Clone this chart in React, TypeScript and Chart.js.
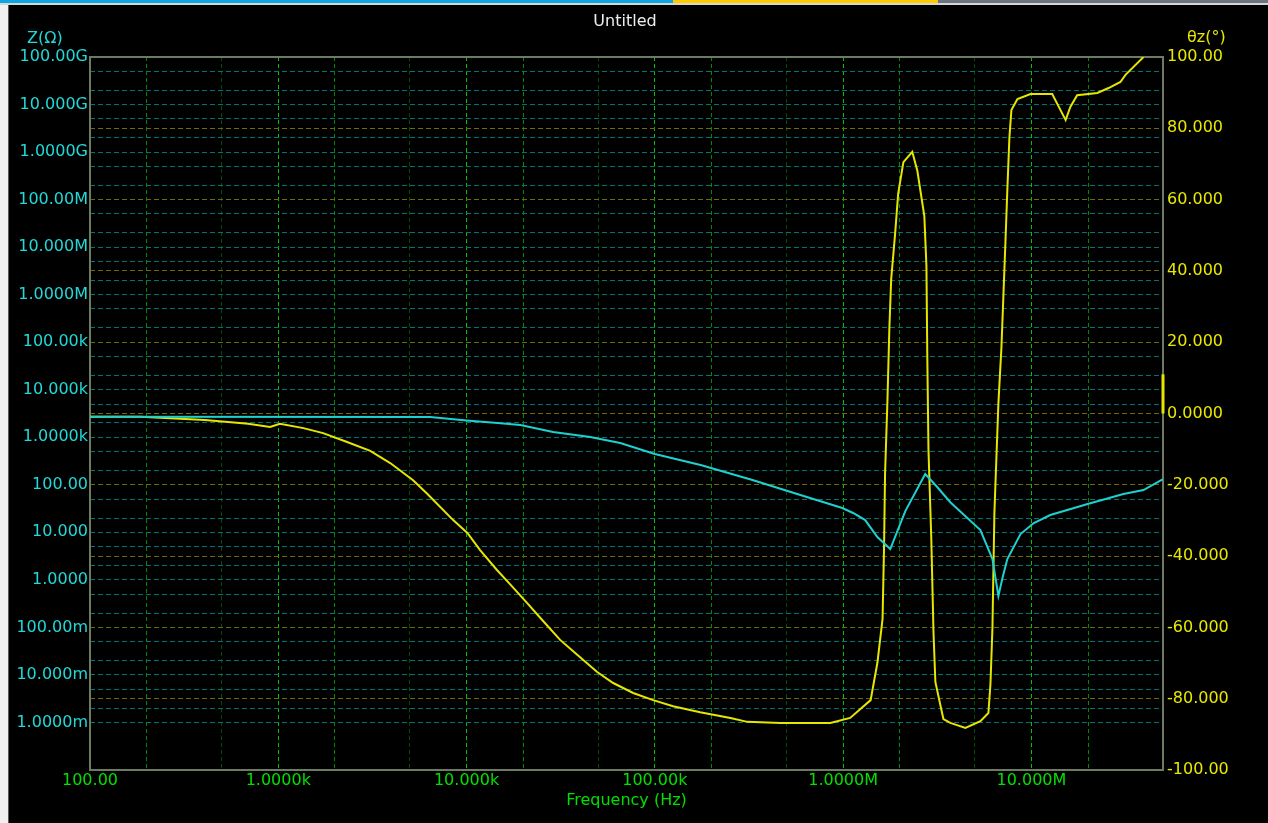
import React, { useEffect, useRef } from 'react';
import { Chart, registerables } from 'chart.js';

Chart.register(...registerables);

// ---------- data ----------
// Impedance magnitude |Z| (ohm) vs frequency (Hz)
const zFreq = [100, 6.4e3, 1e4, 1.46e4, 1.93e4, 2.88e4, 4.54e4, 6.55e4, 1e5, 1.75e5, 3.3e5, 5.93e5, 9.9e5, 1.13e6, 1.31e6, 1.52e6, 1.78e6, 2.14e6, 2.73e6, 3.16e6, 3.71e6, 5.36e6, 6.21e6, 6.68e6, 7.02e6, 7.45e6, 8.75e6, 1.03e7, 1.26e7, 1.99e7, 3.08e7, 3.94e7, 5e7];
const zOhm = [2700, 2680, 2250, 2000, 1810, 1290, 1010, 757, 444, 261, 126, 61, 32.5, 25.5, 18.1, 7.96, 4.45, 28, 169, 90, 43, 11.2, 2.74, 0.457, 1.09, 2.74, 9.2, 15.7, 23.1, 39.4, 64, 77.6, 132];

// Impedance phase θz (deg) vs frequency (Hz)
const phFreq = [100, 185, 408, 692, 904, 1.02e3, 1.36e3, 1.73e3, 2.32e3, 3.08e3, 3.93e3, 5.2e3, 6.18e3, 8.49e3, 1.01e4, 1.18e4, 1.45e4, 1.71e4, 2.1e4, 2.55e4, 3.14e4, 3.87e4, 4.94e4, 6.01e4, 7.67e4, 9.8e4, 1.25e5, 1.74e5, 2.52e5, 3.1e5, 4.64e5, 8.55e5, 1.09e6, 1.4e6, 1.52e6, 1.62e6, 1.65e6, 1.67e6, 1.72e6, 1.76e6, 1.8e6, 1.89e6, 1.96e6, 2.09e6, 2.33e6, 2.48e6, 2.7e6, 2.77e6, 2.8e6, 2.84e6, 2.94e6, 3.02e6, 3.09e6, 3.29e6, 3.41e6, 3.71e6, 4.46e6, 5.36e6, 5.91e6, 6.06e6, 6.21e6, 6.36e6, 6.52e6, 6.68e6, 6.93e6, 7.1e6, 7.28e6, 7.45e6, 7.64e6, 7.83e6, 8.43e6, 9.89e6, 1.29e7, 1.52e7, 1.61e7, 1.75e7, 2.24e7, 2.57e7, 2.97e7, 3.16e7, 3.94e7];
const phDeg = [-0.9, -0.9, -1.8, -2.9, -3.8, -2.9, -4.1, -5.5, -8.0, -10.5, -13.9, -18.7, -22.5, -29.9, -33.5, -38.3, -43.9, -48.0, -53.2, -58.2, -63.5, -67.7, -72.5, -75.6, -78.4, -80.4, -82.1, -83.8, -85.4, -86.5, -86.8, -86.8, -85.4, -80.4, -70.0, -57.6, -37.2, -17.0, 3.8, 23.7, 37.7, 50.6, 61.6, 70.5, 73.4, 68.0, 55.4, 41.4, 15.8, -10.2, -35.2, -61.3, -75.3, -82.0, -85.7, -86.8, -88.2, -86.3, -84.0, -75.9, -60.2, -27.9, -12.2, 2.9, 18.4, 33.0, 48.1, 62.7, 77.3, 85.1, 88.2, 89.6, 89.6, 82.3, 86.0, 89.3, 89.9, 91.3, 93.0, 95.0, 100];

// small phase marker at the right edge
const markerFreq = [5e7, 5e7];
const markerDeg = [0, 11];

// axis ticks / grid values
const freqTicks = [100, 200, 500, 1e3, 2e3, 5e3, 1e4, 2e4, 5e4, 1e5, 2e5, 5e5, 1e6, 2e6, 5e6, 1e7, 2e7];
const zTicks = [1e-3, 2e-3, 5e-3, 1e-2, 2e-2, 5e-2, 0.1, 0.2, 0.5, 1, 2, 5, 10, 20, 50, 100, 200, 500, 1e3, 2e3, 5e3, 1e4, 2e4, 5e4, 1e5, 2e5, 5e5, 1e6, 2e6, 5e6, 1e7, 2e7, 5e7, 1e8, 2e8, 5e8, 1e9, 2e9, 5e9, 1e10, 2e10, 5e10, 1e11];
const phaseTicks = [-100, -80, -60, -40, -20, 0, 20, 40, 60, 80, 100];

const FREQ_MIN = 100;
const FREQ_MAX = 5e7;
const Z_MIN = 1e-4;
const Z_MAX = 1e11;
const PH_MIN = -100;
const PH_MAX = 100;

// ---------- style ----------
const FONT = "'DejaVu Sans', sans-serif";
const CYAN = '#1fd0d0';
const YELLOW = '#e6e600';
const GREEN_TXT = '#00e000';
const CYAN_TXT = '#22d8d8';
const YELLOW_TXT = '#e8e800';
const FRAME = '#6c7b62';

function mantissa(v: number) {
  const e = Math.floor(Math.log10(v) + 1e-9);
  return Math.round(v / Math.pow(10, e));
}

function fmt5(m: number) {
  const a = Math.abs(m);
  if (a >= 99.9995) return m.toFixed(2);
  if (a >= 9.99995) return m.toFixed(3);
  return m.toFixed(4);
}

function fmtSI(v: number) {
  const pre: [number, string][] = [[1e9, 'G'], [1e6, 'M'], [1e3, 'k'], [1, ''], [1e-3, 'm'], [1e-6, 'µ']];
  for (const [p, s] of pre) {
    if (v >= p * 0.99999) return fmt5(v / p) + s;
  }
  return fmt5(v);
}

const framePlugin = {
  id: 'framePlugin',
  beforeDatasetsDraw(chart: any) {
    const { ctx, chartArea } = chart;
    const { left, top, right, bottom } = chartArea;
    ctx.save();
    ctx.strokeStyle = FRAME;
    ctx.lineWidth = 2;
    ctx.strokeRect(left, top, right - left, bottom - top);
    ctx.restore();
  },
  afterDraw(chart: any) {
    const { ctx, chartArea } = chart;
    ctx.save();
    ctx.font = `16px ${FONT}`;
    ctx.textBaseline = 'middle';
    ctx.fillStyle = '#eeeeee';
    ctx.textAlign = 'center';
    ctx.fillText('Untitled', 625, 22);
    ctx.fillStyle = CYAN_TXT;
    ctx.textAlign = 'left';
    ctx.fillText('Z(Ω)', 27, 39);
    ctx.fillStyle = YELLOW_TXT;
    ctx.fillText('θz(°)', 1187, 38);
    ctx.fillStyle = GREEN_TXT;
    ctx.textAlign = 'center';
    ctx.fillText('Frequency (Hz)', (chartArea.left + chartArea.right) / 2, 801);
    ctx.restore();
  },
};

export default function App() {
  const canvasRef = useRef<HTMLCanvasElement | null>(null);

  useEffect(() => {
    const canvas = canvasRef.current;
    if (!canvas) return;
    const chart = new Chart(canvas, {
      type: 'line',
      data: {
        datasets: [
          {
            label: 'Z',
            data: zFreq.map((f, i) => ({ x: f, y: zOhm[i] })),
            yAxisID: 'yZ',
            borderColor: CYAN,
            borderWidth: 2,
            pointRadius: 0,
            tension: 0,
          },
          {
            label: 'θz',
            data: phFreq.map((f, i) => ({ x: f, y: phDeg[i] })),
            yAxisID: 'yP',
            borderColor: YELLOW,
            borderWidth: 2,
            pointRadius: 0,
            tension: 0,
          },
          {
            label: 'marker',
            data: markerFreq.map((f, i) => ({ x: f, y: markerDeg[i] })),
            yAxisID: 'yP',
            borderColor: YELLOW,
            borderWidth: 3,
            pointRadius: 0,
            clip: false,
          } as any,
        ],
      },
      options: {
        responsive: false,
        animation: false,
        events: [],
        layout: { padding: { top: 57, left: 0, right: 0, bottom: 0 } },
        plugins: {
          legend: { display: false },
          tooltip: { enabled: false },
          title: { display: false },
        },
        scales: {
          x: {
            type: 'logarithmic',
            position: 'bottom',
            min: FREQ_MIN,
            max: FREQ_MAX,
            afterBuildTicks: (s: any) => {
              s.ticks = freqTicks.map((v) => ({ value: v }));
            },
            afterFit: (s: any) => {
              s.height = 53;
            },
            grid: {
              drawTicks: false,
              lineWidth: 1,
              color: (ctx: any) => {
                const v = ctx.tick ? ctx.tick.value : 1;
                const m = mantissa(v);
                if (m === 1) return '#00c400';
                if (m === 2) return '#008a00';
                return '#004c00';
              },
            },
            border: { display: false, dash: [4, 3] },
            ticks: {
              autoSkip: false,
              maxRotation: 0,
              padding: 1,
              color: GREEN_TXT,
              font: { family: FONT, size: 16 },
              callback: (v: any) => (mantissa(Number(v)) === 1 ? fmtSI(Number(v)) : ''),
            },
          },
          yZ: {
            type: 'logarithmic',
            position: 'left',
            min: Z_MIN,
            max: Z_MAX,
            afterBuildTicks: (s: any) => {
              s.ticks = zTicks.map((v) => ({ value: v }));
            },
            afterFit: (s: any) => {
              s.width = 90;
            },
            grid: { drawTicks: false, lineWidth: 1, color: '#007676' },
            border: { display: false, dash: [5, 3] },
            ticks: {
              autoSkip: false,
              padding: 2,
              color: CYAN_TXT,
              font: { family: FONT, size: 16 },
              callback: (v: any) => (mantissa(Number(v)) === 1 ? fmtSI(Number(v)) : ''),
            },
          },
          yP: {
            type: 'linear',
            position: 'right',
            min: PH_MIN,
            max: PH_MAX,
            afterBuildTicks: (s: any) => {
              s.ticks = phaseTicks.map((v) => ({ value: v }));
            },
            afterFit: (s: any) => {
              s.width = 105;
            },
            grid: { drawTicks: false, lineWidth: 1, color: '#6c6c00' },
            border: { display: false, dash: [5, 3] },
            ticks: {
              autoSkip: false,
              padding: 4,
              color: YELLOW_TXT,
              font: { family: FONT, size: 16 },
              callback: (v: any) => fmt5(Number(v)),
            },
          },
        },
      } as any,
      plugins: [framePlugin],
    });
    return () => chart.destroy();
  }, []);

  return (
    <div style={{ position: 'fixed', left: 0, top: 0, width: 1268, height: 823, background: '#f0f0f0', overflow: 'hidden' }}>
      <div style={{ position: 'absolute', left: 0, top: 0, width: 673, height: 3, background: '#0ea5e4' }} />
      <div style={{ position: 'absolute', left: 673, top: 0, width: 265, height: 3, background: '#ffcc00' }} />
      <div style={{ position: 'absolute', left: 938, top: 0, width: 330, height: 3, background: '#6b7480' }} />
      <div style={{ position: 'absolute', left: 0, top: 3, width: 1268, height: 2, background: '#d6d6d6' }} />
      <div style={{ position: 'absolute', left: 8, top: 5, right: 0, bottom: 0, background: '#000000', borderLeft: '1px solid #5a5a5a' }} />
      <canvas ref={canvasRef} width={1268} height={823} style={{ position: 'absolute', left: 0, top: 0, width: 1268, height: 823 }} />
    </div>
  );
}
